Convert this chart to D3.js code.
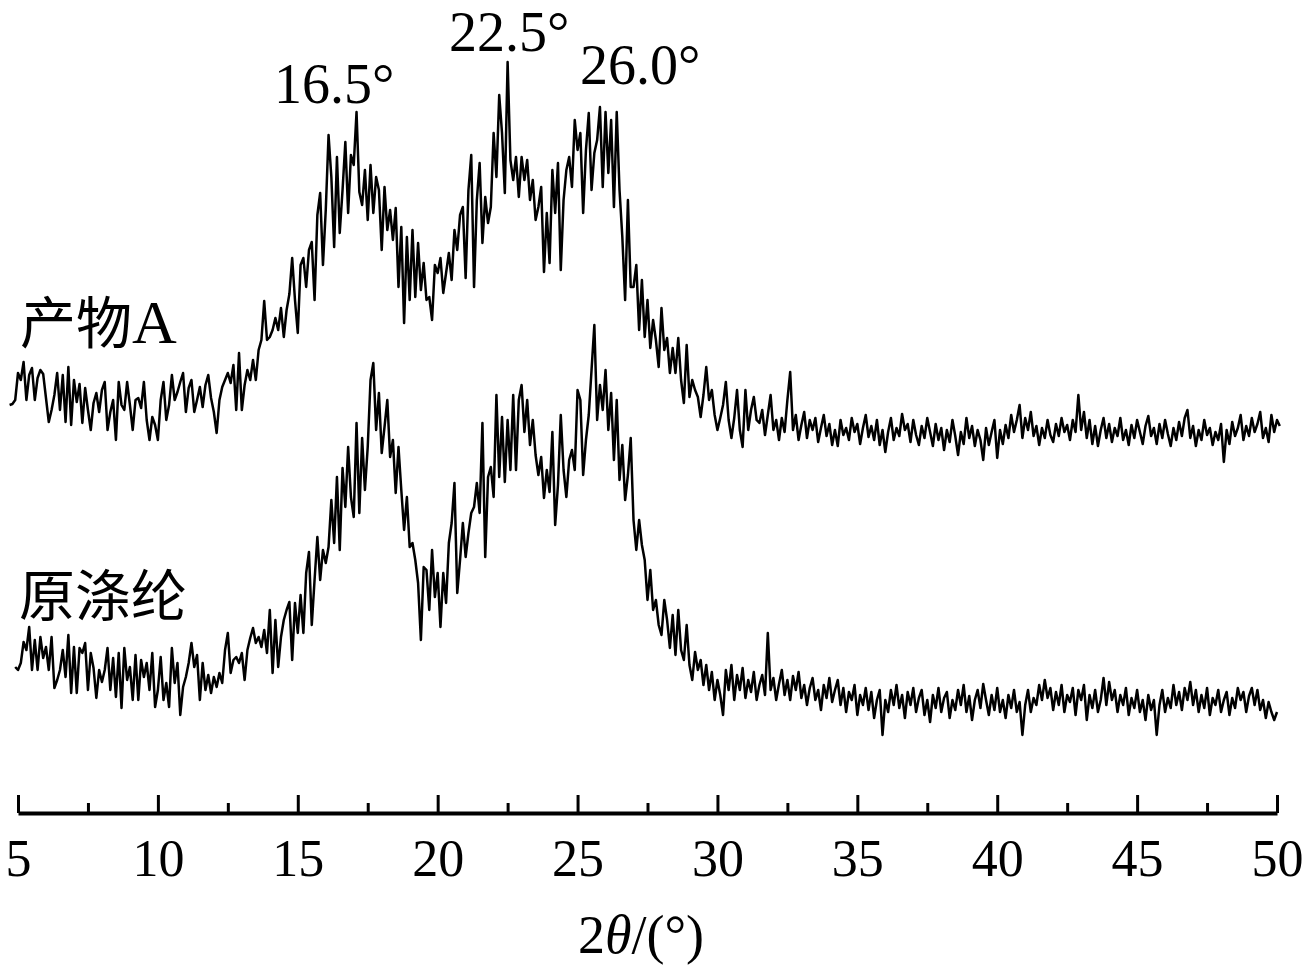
<!DOCTYPE html>
<html>
<head>
<meta charset="utf-8">
<script src="https://cdn.jsdelivr.net/npm/d3@7/dist/d3.min.js"></script>
<style>
  body { margin: 0; background: #fff; }
  svg { display: block; }
</style>
</head>
<body>
<svg id="xrd" width="1302" height="976"></svg>
<script>
// 2theta sampling (deg)
var startA = 4.7, startB = 4.9, stepDeg = 0.1;

// product A intensity (a.u.)
var productA = [
  138,139,143,170,163,181,143,168,175,143,
  165,173,169,145,121,133,148,170,133,168,
  121,176,118,163,141,159,120,155,133,113,
  140,150,131,153,161,113,131,143,103,161,
  138,133,161,138,113,143,145,135,161,123,
  103,126,118,103,143,161,123,138,168,143,
  151,161,170,131,155,163,131,143,156,136,
  158,168,145,131,110,143,156,163,170,160,
  178,133,190,133,158,173,163,183,163,193,
  203,242,203,206,213,225,213,235,206,233,
  249,285,243,210,278,285,256,293,301,243,
  328,350,278,333,408,366,296,386,310,353,
  401,330,388,378,431,351,338,373,323,378,
  330,366,353,293,356,313,333,303,335,256,
  316,220,306,243,313,246,300,253,280,243,
  246,223,278,270,285,250,270,290,263,313,
  293,328,336,265,353,388,256,343,380,300,
  346,320,336,410,366,448,410,350,481,383,
  363,386,346,386,363,383,343,363,323,336,
  356,271,330,280,373,330,380,273,343,373,
  386,356,423,393,410,330,393,430,353,390,
  403,436,356,431,370,423,336,431,353,306,
  243,343,256,256,278,213,263,206,243,195,
  223,203,176,235,193,205,170,195,170,205,
  163,140,198,146,163,153,146,126,148,176,
  143,153,128,113,125,138,161,123,105,125,
  153,113,96,153,113,133,146,123,120,133,
  108,128,148,113,123,103,125,111,143,171,
  113,128,103,118,131,105,123,113,125,101,
  115,128,107,119,98,113,97,123,108,115,
  103,125,111,119,99,115,128,106,117,103,
  123,98,113,91,111,125,103,115,107,129,
  113,119,101,123,108,98,117,105,125,111,
  97,119,103,115,93,113,101,123,107,88,
  111,99,125,105,117,97,113,103,83,115,
  98,111,123,85,113,99,118,105,128,111,
  123,138,105,125,113,131,107,117,98,115,
  105,123,108,101,119,107,125,111,118,103,
  123,111,148,113,131,105,123,99,117,97,
  113,125,105,119,101,115,107,125,103,113,
  98,118,105,123,111,99,117,127,107,115,
  99,119,105,123,109,97,115,103,121,107,
  125,133,105,117,97,113,103,123,108,115,
  98,111,103,119,81,113,99,121,107,115,
  128,103,117,107,125,111,119,131,105,115,
  101,128,111,123,117
];

// original polyester intensity (a.u.)
var rawPET = [
  146,143,150,171,163,186,143,173,143,176,
  155,166,143,176,125,133,143,163,136,178,
  120,166,120,165,160,170,123,160,145,115,
  143,131,143,165,123,155,116,160,105,165,
  133,146,113,158,113,153,136,150,123,160,
  106,123,156,113,130,106,165,130,150,98,
  126,136,150,170,146,158,113,150,123,138,
  120,136,126,140,130,163,180,140,153,156,
  150,160,133,163,175,185,170,176,166,183,
  160,203,140,193,146,176,193,203,211,153,
  210,180,218,180,240,261,188,233,276,233,
  263,250,266,313,270,336,263,345,306,366,
  316,296,390,300,375,323,366,433,450,383,
  420,360,386,413,356,373,320,366,323,283,
  316,266,270,253,230,173,246,243,203,263,
  216,240,186,240,210,270,290,330,220,253,
  290,256,280,300,306,330,300,390,256,336,
  346,316,418,336,396,331,393,343,418,343,
  413,428,381,413,368,393,358,338,356,315,
  343,321,381,288,328,398,343,316,353,363,
  343,423,413,338,373,398,443,488,393,428,
  403,443,383,420,353,413,333,368,313,338,
  375,293,263,293,268,253,213,243,203,213,
  188,178,213,193,165,198,158,203,163,153,
  188,148,133,161,143,153,128,148,123,141,
  113,133,118,98,143,123,148,113,138,123,
  145,115,133,121,141,113,128,138,118,180,
  123,135,113,129,143,118,133,113,137,123,
  141,115,128,108,125,135,113,123,103,128,
  115,135,111,123,133,108,125,101,121,113,
  128,98,118,108,125,103,121,95,113,123,
  78,113,101,123,108,128,105,118,95,121,
  108,125,101,115,123,98,113,91,118,105,
  125,101,115,121,95,113,103,123,108,128,
  101,117,93,113,123,105,129,113,98,118,
  103,125,101,113,95,118,105,123,101,111,
  78,108,123,101,115,108,128,113,133,115,
  125,103,121,108,128,101,118,111,125,98,
  123,113,128,93,118,105,123,101,113,135,
  108,131,113,123,101,118,108,125,98,115,
  105,123,101,113,93,118,103,113,78,108,
  123,101,115,105,128,108,121,103,125,113,
  131,108,123,101,118,105,125,98,115,108,
  123,101,113,121,98,115,105,125,113,121,
  101,117,125,108,123,103,113,95,111,101,
  93,101
];

var majorTicks = [5, 10, 15, 20, 25, 30, 35, 40, 45, 50];
var minorTicks = [7.5, 12.5, 17.5, 22.5, 27.5, 32.5, 37.5, 42.5, 47.5];
var peakLabels = ["16.5°", "22.5°", "26.0°"];
var seriesLabels = ["产物A", "原涤纶"];

var svg = d3.select("#xrd");
var serif = "'Liberation Serif', 'Times New Roman', serif";
var cjk = "'Noto Sans CJK SC', sans-serif";

var x = d3.scaleLinear().domain([5, 50]).range([18, 1277]);
var y = d3.scaleLinear().domain([0, 800]).range([813, 13]);
var offsetA = 270; // vertical shift of the upper pattern

function points(vals, start, shift) {
  return vals.map(function (v, i) { return [start + i * stepDeg, v + shift]; });
}

var line = d3.line()
  .x(function (d) { return x(d[0]); })
  .y(function (d) { return y(d[1]); });

svg.selectAll("path.curve")
  .data([points(productA, startA, offsetA), points(rawPET, startB, 0)])
  .enter()
  .append("path")
  .attr("class", "curve")
  .attr("d", line)
  .attr("fill", "none")
  .attr("stroke", "#000")
  .attr("stroke-width", 2.5)
  .attr("stroke-linejoin", "round");

// x axis: ticks point up, labels below
var gx = svg.append("g")
  .attr("transform", "translate(0,813)")
  .call(d3.axisBottom(x)
    .tickValues(majorTicks)
    .tickSize(-18)
    .tickSizeOuter(0)
    .tickPadding(26)
    .tickFormat(d3.format("d")));
gx.select(".domain").attr("stroke-width", 4);
gx.selectAll(".tick line").attr("stroke-width", 3);
gx.selectAll(".tick text")
  .attr("fill", "#000")
  .style("font-family", serif)
  .style("font-size", "52px");

var gm = svg.append("g")
  .attr("transform", "translate(0,813)")
  .call(d3.axisBottom(x).tickValues(minorTicks).tickSize(-10).tickFormat(""));
gm.select(".domain").remove();
gm.selectAll(".tick line").attr("stroke-width", 3);

// axis title
var title = svg.append("text")
  .attr("x", 641)
  .attr("y", 953)
  .attr("text-anchor", "middle")
  .style("font-family", serif)
  .style("font-size", "54px");
title.append("tspan").text("2");
title.append("tspan").style("font-style", "italic").text("θ");
title.append("tspan").text("/(°)");

// peak annotations
var peakPos = [[274, 103], [449, 51], [580, 84]];
svg.selectAll("text.peak")
  .data(peakLabels)
  .enter()
  .append("text")
  .attr("class", "peak")
  .attr("x", function (d, i) { return peakPos[i][0]; })
  .attr("y", function (d, i) { return peakPos[i][1]; })
  .style("font-family", serif)
  .style("font-size", "56px")
  .text(function (d) { return d; });

// series names
var labA = svg.append("text").attr("x", 20).attr("y", 343);
labA.append("tspan").style("font-family", cjk).style("font-size", "56px").text(seriesLabels[0].slice(0, 2));
labA.append("tspan").style("font-family", serif).style("font-size", "62px").text(seriesLabels[0].slice(2));

svg.append("text")
  .attr("x", 19)
  .attr("y", 616)
  .style("font-family", cjk)
  .style("font-size", "56px")
  .text(seriesLabels[1]);
</script>
</body>
</html>
